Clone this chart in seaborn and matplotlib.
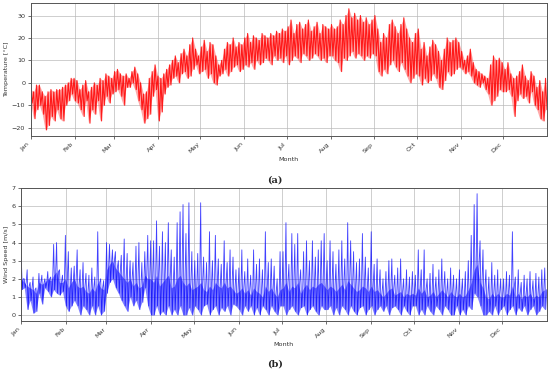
import numpy as np
import pandas as pd
import matplotlib
matplotlib.use("Agg")
import matplotlib.pyplot as plt
import matplotlib.dates as mdates
import seaborn as sns

# two-day high / low readings (month by month)
temp_hi = [-3, -4, -1, -1, -4, -6, -4, -3, -4, -3, -3, -2, -1, 0, 2,
           2, 1, -3, -1, 1, -4, -2, 0, -1, 2, 1, 4, 3, 2,
           5, 6, 4, 3, 4, 2, 5, 7, 4, 0, -5, -4, 2, 5, 8,
           3, 2, 4, 6, 8, 10, 12, 9, 13, 15, 12, 17, 20, 15, 12,
           16, 19, 14, 18, 17, 12, 8, 10, 15, 18, 17, 20, 16, 18, 17,
           20, 22, 18, 21, 20, 19, 22, 21, 20, 22, 21, 23, 22, 24, 23,
           25, 28, 22, 26, 27, 24, 26, 28, 23, 25, 27, 22, 26, 25, 24,
           26, 24, 25, 28, 26, 30, 33, 29, 31, 28, 30, 27, 29, 26, 28,
           30, 24, 18, 22, 20, 26, 28, 25, 22, 26, 29, 24, 20, 18, 22,
           24, 15, 18, 12, 16, 19, 17, 14, 10, 15, 20, 18, 19, 20, 18,
           14, 10, 12, 15, 9, 6, 5, 4, 3, 2, 8, 12, 10, 11, 9,
           6, 9, 4, 2, 3, 5, 8, 3, 1, 5, 3, -2, 1, -4, 2]
temp_lo = [-9, -16, -12, -10, -14, -21, -19, -15, -17, -12, -16, -17, -10, -8, -5,
           -8, -9, -12, -15, -8, -18, -12, -14, -8, -17, -10, -6, -9, -5,
           -4, -3, -6, -10, -2, -2, 0, -3, -8, -12, -18, -16, -14, -6, -3,
           -17, -13, -5, -2, -1, 2, 3, 0, 4, 5, 2, 3, 6, 8, 4,
           5, 6, 2, 4, 0, -1, 3, 4, 6, 3, 5, 7, 8, 5, 6,
           8, 7, 9, 6, 10, 8, 9, 11, 10, 8, 12, 10, 11, 9, 12,
           8, 10, 12, 11, 9, 13, 12, 10, 11, 13, 12, 10, 11, 9, 12,
           12, 10, 9, 5, 11, 10, 12, 14, 11, 13, 12, 10, 12, 11, 13,
           12, 5, 3, 6, 4, 8, 10, 7, 5, 9, 6, 3, 0, 2, 4,
           3, -1, 2, 0, 1, 4, 2, -2, -3, 1, 5, 3, 4, 6, 7,
           6, 4, 5, 3, 0, -1, -2, 0, -3, -5, -10, -8, -6, -3, -4,
           -4, -3, -6, -15, -8, -5, -7, -6, -9, -4, -10, -12, -16, -17, -12]

# two-day gust peak, typical level and lull of the wind speed
wind_hi = [3.2, 2.0, 2.5, 1.8, 2.1, 1.5, 2.3, 2.2, 2.0, 2.4, 2.1, 3.9, 4.0, 2.5, 2.2,
           4.4, 3.5, 2.6, 2.7, 3.6, 2.5, 2.9, 2.3, 2.2, 2.6, 2.1, 4.6, 2.0, 1.9,
           4.0, 3.9, 3.6, 3.5, 3.0, 3.3, 4.2, 3.4, 3.0, 2.9, 3.8, 4.0, 2.9, 3.5, 4.4,
           4.1, 4.1, 5.2, 3.8, 4.6, 4.0, 5.1, 3.6, 3.2, 5.1, 5.7, 6.1, 4.5, 6.2, 3.5,
           3.0, 3.4, 6.2, 3.2, 2.9, 4.6, 3.0, 4.4, 3.1, 2.8, 4.1, 2.9, 3.6, 3.2, 2.5,
           2.6, 3.6, 2.4, 3.1, 2.2, 3.6, 2.8, 3.1, 2.5, 4.6, 2.9, 3.1, 2.7, 2.0, 3.5,
           3.5, 5.1, 2.8, 4.5, 3.9, 4.5, 2.5, 3.5, 4.1, 3.0, 4.1, 3.2, 3.6, 4.1, 4.5,
           3.0, 4.1, 3.5, 2.8, 3.6, 4.1, 3.1, 5.1, 4.1, 3.5, 2.9, 3.1, 4.5, 3.2, 2.6,
           4.6, 2.8, 3.1, 2.5, 2.0, 2.4, 3.0, 3.1, 2.2, 2.6, 3.1, 2.0, 2.5, 2.1, 2.4,
           2.2, 3.6, 2.5, 3.6, 2.0, 2.3, 2.8, 2.1, 2.5, 3.1, 2.4, 2.0, 2.6, 2.2, 2.0,
           2.5, 2.0, 2.4, 3.0, 4.4, 6.1, 6.7, 4.1, 3.6, 2.5, 2.1, 2.9, 2.2, 2.5, 2.0,
           2.0, 2.4, 2.2, 4.6, 2.1, 2.5, 1.8, 2.2, 2.0, 2.4, 1.9, 2.3, 2.1, 2.5, 2.6]
wind_mid = [2.0, 1.8, 1.6, 1.5, 1.4, 1.2, 1.8, 1.7, 1.8, 2.0, 1.9, 2.2, 2.4, 1.8, 1.8,
            2.0, 1.5, 1.8, 2.0, 1.6, 1.5, 1.6, 1.3, 1.2, 1.5, 1.3, 1.8, 1.5, 1.4,
            2.5, 2.8, 3.0, 2.6, 2.4, 2.2, 2.0, 1.8, 2.0, 1.6, 1.8, 1.5, 1.6, 2.2, 2.0,
            2.0, 1.8, 2.2, 1.6, 1.8, 2.0, 2.2, 1.5, 1.6, 2.0, 2.2, 1.8, 1.6, 1.8, 1.4,
            1.5, 1.6, 1.8, 1.4, 1.3, 1.6, 1.4, 1.8, 1.6, 1.5, 1.8, 1.5, 1.6, 1.4, 1.2,
            1.3, 1.5, 1.2, 1.4, 1.1, 1.5, 1.3, 1.2, 1.0, 1.6, 1.3, 1.5, 1.2, 1.0, 1.4,
            1.5, 1.8, 1.3, 1.6, 1.5, 1.8, 1.2, 1.5, 1.7, 1.4, 1.6, 1.5, 1.7, 1.8, 1.6,
            1.4, 1.6, 1.5, 1.3, 1.5, 1.7, 1.4, 1.9, 1.7, 1.5, 1.3, 1.4, 1.6, 1.5, 1.3,
            1.6, 1.3, 1.4, 1.2, 1.0, 1.2, 1.4, 1.5, 1.1, 1.2, 1.3, 1.0, 1.2, 1.1, 1.2,
            1.1, 1.5, 1.2, 1.4, 1.0, 1.1, 1.3, 1.0, 1.2, 1.4, 1.2, 1.0, 1.3, 1.1, 1.0,
            1.2, 1.0, 1.1, 1.4, 1.8, 2.5, 2.8, 1.8, 1.5, 1.0, 0.9, 1.2, 1.0, 1.2, 1.0,
            1.0, 1.2, 1.1, 1.6, 1.0, 1.2, 0.9, 1.1, 1.0, 1.2, 0.9, 1.1, 1.0, 1.3, 1.4]
wind_lo = [1.4, 1.5, 0.3, 0.8, 0.1, 0.2, 1.2, 0.6, 1.5, 1.3, 1.0, 1.4, 1.2, 1.1, 1.3,
           0.5, 0.2, 0.5, 0.8, 0.5, 0.0, 0.5, 0.3, 0.0, 0.5, 0.0, 0.5, 0.0, 0.2,
           1.2, 1.8, 2.0, 1.5, 1.2, 0.8, 0.5, 0.2, 1.0, 0.5, 0.8, 0.3, 0.7, 1.5, 0.5,
           0.0, 0.0, 0.5, 0.0, 0.2, 0.0, 0.5, 0.0, 0.3, 0.0, 0.5, 0.0, 0.0, 0.4, 0.0,
           0.5, 0.3, 0.0, 0.5, 0.6, 0.0, 0.3, 0.5, 0.0, 0.4, 0.2, 0.5, 0.0, 0.6, 0.5,
           0.3, 0.0, 0.5, 0.2, 0.5, 0.0, 0.4, 0.0, 0.5, 0.3, 0.0, 0.5, 0.2, 0.0, 0.5,
           0.5, 0.0, 0.3, 0.5, 0.2, 0.0, 0.4, 0.5, 0.0, 0.3, 0.5, 0.2, 0.0, 0.5, 0.3,
           0.3, 0.5, 0.0, 0.4, 0.0, 0.5, 0.3, 0.0, 0.5, 0.2, 0.0, 0.4, 0.5, 0.0, 0.3,
           0.5, 0.0, 0.3, 0.5, 0.2, 0.5, 0.0, 0.4, 0.5, 0.3, 0.0, 0.5, 0.2, 0.0, 0.5,
           0.5, 0.0, 0.3, 0.0, 0.5, 0.2, 0.0, 0.5, 0.3, 0.0, 0.5, 0.3, 0.0, 0.0, 0.5,
           0.0, 0.3, 0.0, 0.5, 0.3, 1.2, 1.0, 0.5, 0.0, 0.0, 0.2, 0.0, 0.5, 0.0, 0.3,
           0.5, 0.0, 0.3, 0.5, 0.0, 0.4, 0.2, 0.5, 0.0, 0.3, 0.5, 0.0, 0.2, 0.5, 0.3]

temp_ticks = [-20, -10, 0, 10, 20, 30]
wind_ticks = [0, 1, 2, 3, 4, 5, 6, 7]

sns.set_style("ticks")
plt.rcParams.update({'font.size': 4.6, 'font.family': ['DejaVu Sans']})

start = pd.Timestamp("2019-01-01")
end = pd.Timestamp("2020-01-01")
month_starts = pd.date_range(start, periods=12, freq="MS")


def to_frame(series, col):
    vals = np.column_stack(series).ravel()
    t = start + pd.to_timedelta(np.linspace(0, 365, len(vals)), unit="D")
    return pd.DataFrame({"time": t, col: vals})


def style_axis(ax, ylabel, ticks, lab_x):
    ax.set_xlim(start, end)
    ax.set_xticks(month_starts)
    ax.xaxis.set_major_formatter(mdates.DateFormatter("%b"))
    ax.set_yticks(ticks)
    ax.grid(True, color="#b8b8b8", lw=0.6, alpha=0.8)
    for s in ax.spines.values():
        s.set_color("#555555")
        s.set_linewidth(0.7)
    ax.tick_params(labelsize=4.6, length=2.5, width=0.5, pad=1.5, colors="#333333")
    plt.setp(ax.get_xticklabels(), rotation=45, ha="right")
    ax.set_xlabel("Month", fontsize=4.6, color="#333333")
    ax.set_ylabel(ylabel, fontsize=4.6, color="#333333")
    ax.xaxis.set_label_coords(0.5, -0.155)
    ax.yaxis.set_label_coords(lab_x, 0.5)


fig = plt.figure(figsize=(5.5, 3.72), dpi=100)
ax1 = fig.add_axes([0.0558, 0.6344, 0.9387, 0.3583])
ax2 = fig.add_axes([0.0387, 0.1371, 0.9553, 0.3583])

df_t = to_frame([temp_hi, temp_lo], "temp")
sns.lineplot(data=df_t, x="time", y="temp", ax=ax1, color="red",
             lw=0.8, alpha=0.85, estimator=None)
ax1.fill_between(df_t["time"].iloc[::2], temp_hi, temp_lo,
                 color="#ff4040", alpha=0.45, lw=0)
style_axis(ax1, "Temperature [°C]", temp_ticks, -0.042)

df_w = to_frame([wind_hi, wind_lo, wind_mid], "wind")
sns.lineplot(data=df_w, x="time", y="wind", ax=ax2, color="blue",
             lw=0.6, alpha=0.75, estimator=None)
ax2.fill_between(df_w["time"].iloc[::3], wind_mid, wind_lo,
                 color="#2020ff", alpha=0.55, lw=0)
ax2.set_ylim(-0.33, 7.03)
style_axis(ax2, "Wind Speed [m/s]", wind_ticks, -0.023)

fig.text(0.5, 1 - 180 / 372, "(a)", ha="center", va="center",
         fontsize=7, fontweight="bold", family="DejaVu Serif")
fig.text(0.5, 1 - 364 / 372, "(b)", ha="center", va="center",
         fontsize=7, fontweight="bold", family="DejaVu Serif")

fig.savefig("out.png", dpi=100)
